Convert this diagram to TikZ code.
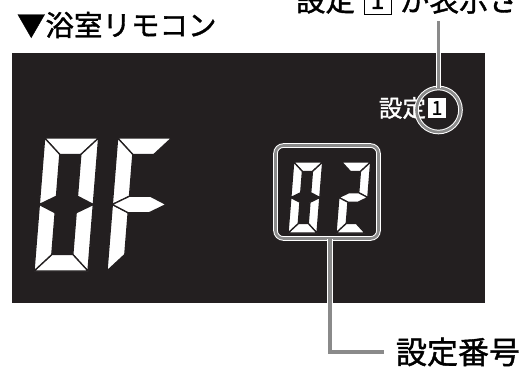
\documentclass[tikz,border=0pt]{standalone}
\usepackage{fontspec}
\setmainfont{Noto Sans CJK JP}[FakeBold=1.3]
\usetikzlibrary{positioning}
\definecolor{panelbg}{HTML}{231F20}
\definecolor{leadgray}{HTML}{8A8A8A}
\tikzset{
 pics/segA/.style={code={\path[lcdseg] (0,\sgH) -- (\sgW,\sgH) -- (\sgW-\sgT,\sgH-\sgT) -- (\sgT,\sgH-\sgT) -- cycle;}},
 pics/segB/.style={code={\path[lcdseg] (\sgW,\sgH) -- (\sgW,\sgM) -- (\sgW-\sgT,\sgM+\sgT/2) -- (\sgW-\sgT,\sgH-\sgT) -- cycle;}},
 pics/segC/.style={code={\path[lcdseg] (\sgW,\sgM) -- (\sgW,0) -- (\sgW-\sgT,\sgT) -- (\sgW-\sgT,\sgM-\sgT/2) -- cycle;}},
 pics/segD/.style={code={\path[lcdseg] (0,0) -- (\sgW,0) -- (\sgW-\sgT,\sgT) -- (\sgT,\sgT) -- cycle;}},
 pics/segE/.style={code={\path[lcdseg] (0,\sgM) -- (\sgT,\sgM-\sgT/2) -- (\sgT,\sgT) -- (0,0) -- cycle;}},
 pics/segF/.style={code={\path[lcdseg] (0,\sgH) -- (0,\sgM) -- (\sgT,\sgM+\sgT/2) -- (\sgT,\sgH-\sgT) -- cycle;}},
 pics/segG/.style={code={\path[lcdseg] (0,\sgM) -- (\sgT,\sgM+\sgT/2) -- (\sgW-\sgT,\sgM+\sgT/2) -- (\sgW,\sgM)
   -- (\sgW-\sgT,\sgM-\sgT/2) -- (\sgT,\sgM-\sgT/2) -- cycle;}}
}
% slanted seven-segment digit: x, y (lower left), width, height, thickness, segments
\newcommand\lcddigit[6]{%
  \begin{scope}[shift={(#1,#2)},x={(1pt,0pt)},y={(0.08pt,1pt)}]
    \def\sgW{#3}\def\sgH{#4}\def\sgT{#5}\pgfmathsetmacro\sgM{#4/2}
    \foreach \s in {#6}{\edef\tmp{\noexpand\pic{seg\s};}\tmp}
  \end{scope}}
\newcommand\fsz[1]{\fontsize{#1pt}{#1pt}\selectfont}

\begin{document}
\begin{tikzpicture}[x=1pt,y=-1pt,
 every node/.style={inner sep=0pt,outer sep=0pt},
 lcdseg/.style={fill=white,draw=panelbg,line width=1.3pt,line join=round},
 callout/.style={draw=white,double=leadgray,line width=1pt,double distance=2.6pt},
 leadline/.style={draw=white,double=leadgray,line width=1.2pt,double distance=3.4pt}]
  \useasboundingbox (0,0) rectangle (522,367);
  \clip (0,0) rectangle (522,367);
  \node[anchor=west,font=\fsz{28.5}] (title) at (17,25) {▼浴室リモコン};
  \node[anchor=west,font=\fsz{29.5}] (note1) at (296,0) {設定};
  \node[draw=black,line width=0.8pt,minimum width=27pt,minimum height=29pt,
        font=\fsz{25},right=9pt of note1] (notechip) {1};
  \node[font=\fsz{29.5},right=9pt of notechip] (note2) {が表示さ};
  \fill[panelbg] (12,53) rectangle (485,303);
  % display
  \lcddigit{34}{271}{54}{133}{16.5}{A,B,C,D,E,F}
  \lcddigit{107}{271}{54}{133}{16.5}{A,E,F,G}
  \lcddigit{288}{233}{29}{71}{9.5}{A,B,C,D,E,F}
  \lcddigit{336}{233}{29}{71}{9.5}{A,B,G,E,D}
  \node[anchor=west,text=white,font=\fsz{23.5}] (setlbl) at (379,108) {設定};
  \node[fill=white,text=black,font=\fsz{19},minimum width=18pt,
        minimum height=20pt,right=2pt of setlbl] (setchip) {1};
  % callouts
  \node[callout,rounded corners=8pt,minimum width=103pt,minimum height=93pt] (numbox) at (327,192) {};
  \node[callout,circle,minimum size=44pt] (mark) at (438.5,110) {};
  \coordinate (topend) at (438.5,21);
  \draw[leadline] (topend) -- (mark.north);
  \node[anchor=west,font=\fsz{31}] (numlabel) at (396,352) {設定番号};
  \draw[leadline] ([xshift=3pt]numbox.south) |- ([xshift=-12pt]numlabel.west);
\end{tikzpicture}
\end{document}
